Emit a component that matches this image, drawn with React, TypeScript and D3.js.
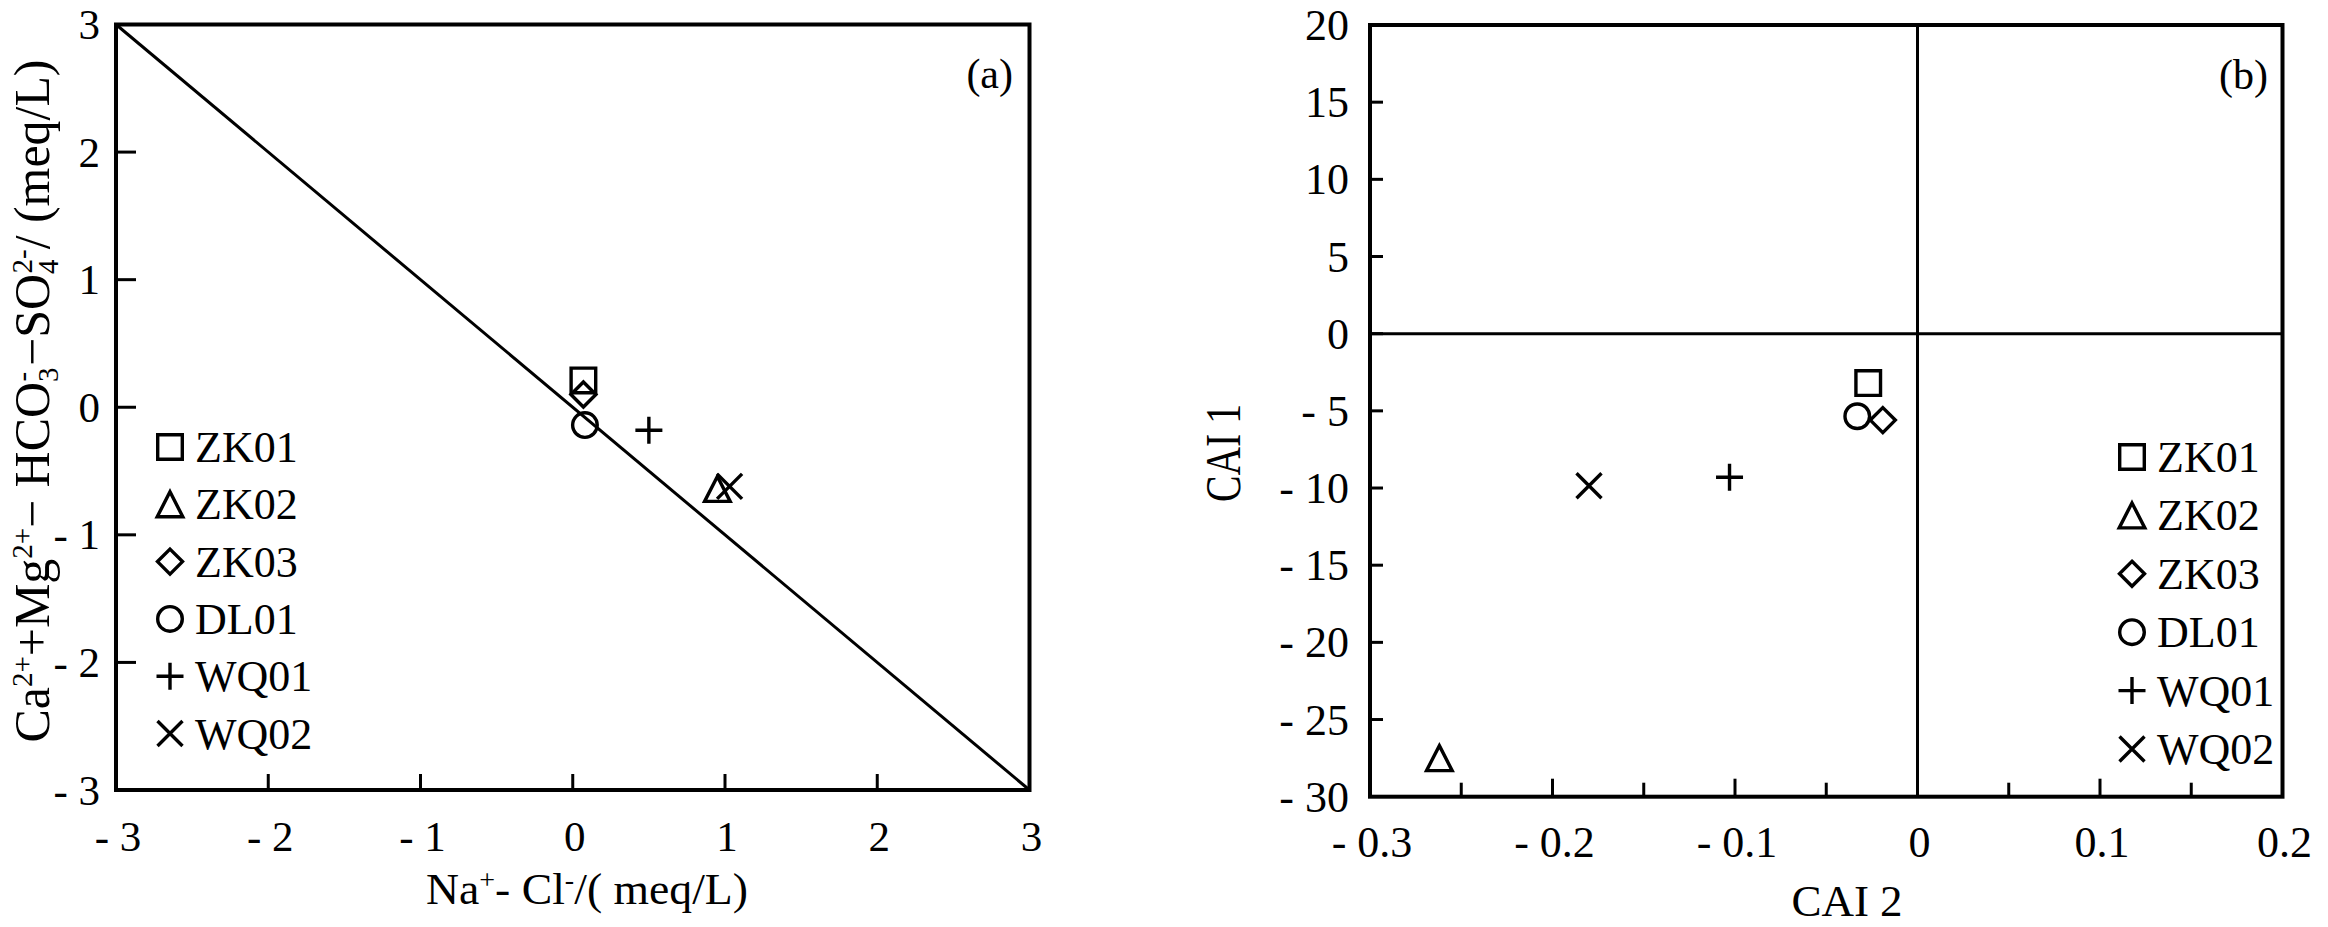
import React from "react";
import * as d3 from "d3";

// ---------------- data ----------------
const samples = ["ZK01", "ZK02", "ZK03", "DL01", "WQ01", "WQ02"];
const shapes = ["square", "triangle", "diamond", "circle", "plus", "cross"];

// panel (a): Na+ - Cl-  vs  Ca2+ + Mg2+ - HCO3- - SO4 2-   (meq/L)
const naMinusCl = [0.07, 0.95, 0.07, 0.08, 0.5, 1.03];
const caMgMinusHco3So4 = [0.21, -0.64, 0.1, -0.14, -0.18, -0.62];
const oneToOneLine = [
  [-3, 3],
  [3, -3],
];

// panel (b): CAI 2 vs CAI 1
const cai2 = [-0.027, -0.262, -0.019, -0.033, -0.103, -0.18];
const cai1 = [-3.2, -27.5, -5.6, -5.35, -9.3, -9.85];

const ticksAX = [-3, -2, -1, 0, 1, 2, 3];
const ticksAY = [-3, -2, -1, 0, 1, 2, 3];
const ticksBX = [-0.3, -0.2, -0.1, 0, 0.1, 0.2];
const minorTicksBX = [-0.25, -0.15, -0.05, 0.05, 0.15];
const ticksBY = [-30, -25, -20, -15, -10, -5, 0, 5, 10, 15, 20];

// ---------------- style ----------------
const FONT = "'Liberation Serif','Times New Roman',serif";
const INK = "#000";

const fmt = (v: number) => (v < 0 ? "- " + d3.format("~g")(-v) : d3.format("~g")(v));

function markerPath(shape: string): string {
  const p = d3.path();
  if (shape === "square") {
    p.rect(-12.3, -12.3, 24.6, 24.6);
  } else if (shape === "triangle") {
    p.moveTo(0, -12.5);
    p.lineTo(12.8, 12.5);
    p.lineTo(-12.8, 12.5);
    p.closePath();
  } else if (shape === "diamond") {
    p.moveTo(0, -12.5);
    p.lineTo(12.5, 0);
    p.lineTo(0, 12.5);
    p.lineTo(-12.5, 0);
    p.closePath();
  } else if (shape === "circle") {
    p.arc(0, 0, 12.3, 0, Math.PI * 2);
    p.closePath();
  } else if (shape === "plus") {
    p.moveTo(-13.5, 0);
    p.lineTo(13.5, 0);
    p.moveTo(0, -13.5);
    p.lineTo(0, 13.5);
  } else {
    p.moveTo(-12.5, -12.5);
    p.lineTo(12.5, 12.5);
    p.moveTo(12.5, -12.5);
    p.lineTo(-12.5, 12.5);
  }
  return p.toString();
}

function Marker({ shape, x, y }: { shape: string; x: number; y: number }) {
  return (
    <path
      d={markerPath(shape)}
      transform={`translate(${x},${y})`}
      fill="none"
      stroke={INK}
      strokeWidth={3.4}
      strokeLinejoin="miter"
    />
  );
}

function Legend({ x, y, step }: { x: number; y: number; step: number }) {
  return (
    <g>
      {samples.map((s, i) => (
        <g key={s} transform={`translate(${x},${y + i * step})`}>
          <Marker shape={shapes[i]} x={0} y={0} />
          <text x={25} y={15} fontFamily={FONT} fontSize={44} fill={INK}>
            {s}
          </text>
        </g>
      ))}
    </g>
  );
}

// ---------------- panels ----------------
function PanelA() {
  const x = d3.scaleLinear().domain([-3, 3]).range([116, 1029.5]);
  const y = d3.scaleLinear().domain([-3, 3]).range([790, 24.5]);
  const line = d3
    .line<number[]>()
    .x((d) => x(d[0]))
    .y((d) => y(d[1]));
  const [x0, x1] = x.range();
  const [y0, y1] = y.range();
  return (
    <g>
      {/* 1:1 line */}
      <path d={line(oneToOneLine) || ""} stroke={INK} strokeWidth={3} fill="none" />
      {/* frame */}
      <rect x={x0} y={y1} width={x1 - x0} height={y0 - y1} fill="none" stroke={INK} strokeWidth={4} />
      {/* ticks */}
      {ticksAX.slice(1, -1).map((t) => (
        <line key={"xt" + t} x1={x(t)} x2={x(t)} y1={y0} y2={y0 - 16} stroke={INK} strokeWidth={3} />
      ))}
      {ticksAY.slice(1, -1).map((t) => (
        <line key={"yt" + t} x1={x0} x2={x0 + 20} y1={y(t)} y2={y(t)} stroke={INK} strokeWidth={3} />
      ))}
      {ticksAX.map((t) => (
        <text key={"xl" + t} x={x(t) + 2} y={851} textAnchor="middle" fontFamily={FONT} fontSize={43} fill={INK}>
          {fmt(t)}
        </text>
      ))}
      {ticksAY.map((t) => (
        <text key={"yl" + t} x={100} y={y(t) + 14.5} textAnchor="end" fontFamily={FONT} fontSize={43} fill={INK}>
          {fmt(t)}
        </text>
      ))}
      {/* points */}
      {samples.map((s, i) => (
        <Marker key={s} shape={shapes[i]} x={x(naMinusCl[i])} y={y(caMgMinusHco3So4[i])} />
      ))}
      <Legend x={170} y={447} step={57.3} />
      <text x={1013} y={88} textAnchor="end" fontFamily={FONT} fontSize={42} fill={INK}>
        (a)
      </text>
      {/* x title */}
      <text x={587} y={904} textAnchor="middle" fontFamily={FONT} fontSize={44} fill={INK} textLength={322} lengthAdjust="spacingAndGlyphs">
        Na<tspan dy={-15} fontSize={27}>+</tspan>
        <tspan dy={15}>- Cl</tspan>
        <tspan dy={-15} fontSize={27}>-</tspan>
        <tspan dy={15}>/( meq/L)</tspan>
      </text>
      {/* y title */}
      <text
        transform="translate(49,401) rotate(-90)"
        textAnchor="middle"
        fontFamily={FONT}
        fontSize={50}
        fill={INK}
        textLength={683}
        lengthAdjust="spacingAndGlyphs"
      >
        Ca<tspan dy={-17} fontSize={29}>2+</tspan>
        <tspan dy={17}>+Mg</tspan>
        <tspan dy={-17} fontSize={29}>2+</tspan>
        <tspan dy={17}>− HCO</tspan>
        <tspan dy={9} fontSize={29}>3</tspan>
        <tspan dx={-14} dy={-26} fontSize={29}>-</tspan>
        <tspan dx={6} dy={17}>−SO</tspan>
        <tspan dy={9} fontSize={29}>4</tspan>
        <tspan dx={-14} dy={-26} fontSize={29}>2-</tspan>
        <tspan dy={17}>/ (meq/L)</tspan>
      </text>
    </g>
  );
}

function PanelB() {
  const x = d3.scaleLinear().domain([-0.3, 0.2]).range([1370, 2282.5]);
  const y = d3.scaleLinear().domain([-30, 20]).range([796.7, 25]);
  const [x0, x1] = x.range();
  const [y0, y1] = y.range();
  return (
    <g>
      {/* zero lines */}
      <line x1={x0} x2={x1} y1={y(0)} y2={y(0)} stroke={INK} strokeWidth={3} />
      <line x1={x(0)} x2={x(0)} y1={y0} y2={y1} stroke={INK} strokeWidth={3} />
      {/* frame */}
      <rect x={x0} y={y1} width={x1 - x0} height={y0 - y1} fill="none" stroke={INK} strokeWidth={4} />
      {ticksBX.slice(1, -1).map((t) => (
        <line key={"xt" + t} x1={x(t)} x2={x(t)} y1={y0} y2={y0 - 18} stroke={INK} strokeWidth={3} />
      ))}
      {minorTicksBX.map((t) => (
        <line key={"xm" + t} x1={x(t)} x2={x(t)} y1={y0} y2={y0 - 14} stroke={INK} strokeWidth={3} />
      ))}
      {ticksBY.slice(1, -1).map((t) => (
        <line key={"yt" + t} x1={x0} x2={x0 + 13} y1={y(t)} y2={y(t)} stroke={INK} strokeWidth={3} />
      ))}
      {ticksBX.map((t) => (
        <text key={"xl" + t} x={x(t) + 2} y={857} textAnchor="middle" fontFamily={FONT} fontSize={44} fill={INK}>
          {fmt(t)}
        </text>
      ))}
      {ticksBY.map((t) => (
        <text key={"yl" + t} x={1349} y={y(t) + 15} textAnchor="end" fontFamily={FONT} fontSize={44} fill={INK}>
          {fmt(t)}
        </text>
      ))}
      {samples.map((s, i) => (
        <Marker key={s} shape={shapes[i]} x={x(cai2[i])} y={y(cai1[i])} />
      ))}
      <Legend x={2132} y={457} step={58.4} />
      <text x={2268} y={89} textAnchor="end" fontFamily={FONT} fontSize={42} fill={INK}>
        (b)
      </text>
      <text x={1847} y={916} textAnchor="middle" fontFamily={FONT} fontSize={45} fill={INK}>
        CAI 2
      </text>
      <text
        transform="translate(1240,453) rotate(-90)"
        textAnchor="middle"
        fontFamily={FONT}
        fontSize={50}
        fill={INK}
        textLength={98}
        lengthAdjust="spacingAndGlyphs"
      >
        CAI 1
      </text>
    </g>
  );
}

export default function App() {
  return (
    <svg
      width={2328}
      height={927}
      viewBox="0 0 2328 927"
      style={{ position: "absolute", left: 0, top: 0, background: "#fff" }}
    >
      <rect width={2328} height={927} fill="#fff" />
      <PanelA />
      <PanelB />
    </svg>
  );
}
